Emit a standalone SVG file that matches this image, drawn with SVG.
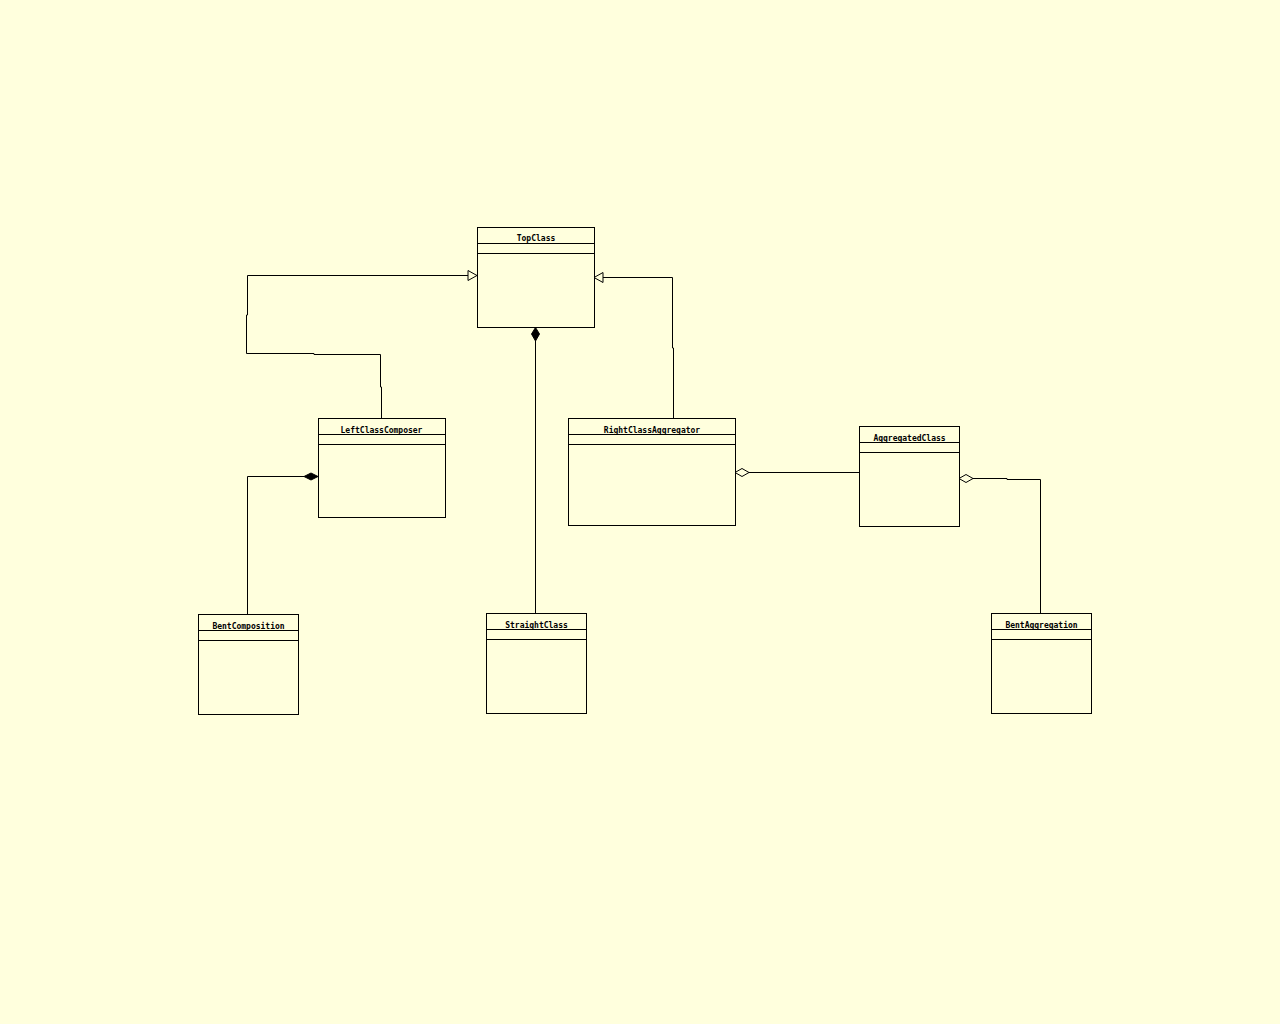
<svg xmlns="http://www.w3.org/2000/svg" width="1280" height="1024" viewBox="0 0 1280 1024">
<style>
.box{fill:none;stroke:#000;stroke-width:1}
.ln{fill:none;stroke:#000;stroke-width:1}
.t{font-family:"DejaVu Sans Mono","Liberation Mono",monospace;font-size:8px;font-weight:bold;fill:#000;text-anchor:middle}
.hol{fill:#FFFFDD;stroke:#000;stroke-width:1}
.fil{fill:#000;stroke:#000;stroke-width:1}
</style>
<rect x="0" y="0" width="1280" height="1024" fill="#FFFFDD"/>
<g id="connectors">
<polyline class="ln" points="381.5,418 381.5,387 380.5,387 380.5,354.5 314,354.5 314,353.5 246.5,353.5 246.5,315 247.5,315 247.5,275.5 468,275.5"/>
<polygon class="hol" points="468,270.5 477,275.5 468,280.5"/>
<polyline class="ln" points="673.5,418 673.5,348 672.5,348 672.5,277.5 603,277.5"/>
<polygon class="hol" points="603,272.5 594,277.5 603,282.5"/>
<line class="ln" x1="535.5" y1="613" x2="535.5" y2="341"/>
<polygon class="fil" points="535.5,327.5 539.5,334 535.5,341 531.5,334"/>
<polyline class="ln" points="247.5,614 247.5,476.5 304,476.5"/>
<polygon class="fil" points="318,476.5 311,480 304,476.5 311,473"/>
<line class="ln" x1="859" y1="472.5" x2="749" y2="472.5"/>
<polygon class="hol" points="735,472.5 742,468.5 749,472.5 742,476.5"/>
<polyline class="ln" points="1040.5,613 1040.5,479.5 1007,479.5 1007,478.5 973,478.5"/>
<polygon class="hol" points="959,478.5 966,474.5 973,478.5 966,482.5"/>
</g>
<g id="TopClass">
<rect class="box" x="477.5" y="227.5" width="117" height="100" fill="#FFFFDD"/>
<line class="ln" x1="477.5" y1="243.5" x2="594.5" y2="243.5"/>
<line class="ln" x1="477.5" y1="253.5" x2="594.5" y2="253.5"/>
<text class="t" x="536" y="241">TopClass</text>
</g>
<g id="LeftClassComposer">
<rect class="box" x="318.5" y="418.5" width="127" height="99"/>
<line class="ln" x1="318.5" y1="434.5" x2="445.5" y2="434.5"/>
<line class="ln" x1="318.5" y1="444.5" x2="445.5" y2="444.5"/>
<text class="t" x="381.5" y="432.5">LeftClassComposer</text>
</g>
<g id="RightClassAggregator">
<rect class="box" x="568.5" y="418.5" width="167" height="107"/>
<line class="ln" x1="568.5" y1="434.5" x2="735.5" y2="434.5"/>
<line class="ln" x1="568.5" y1="444.5" x2="735.5" y2="444.5"/>
<text class="t" x="652" y="432.5">RightClassAggregator</text>
</g>
<g id="AggregatedClass">
<rect class="box" x="859.5" y="426.5" width="100" height="100"/>
<line class="ln" x1="859.5" y1="442.5" x2="959.5" y2="442.5"/>
<line class="ln" x1="859.5" y1="452.5" x2="959.5" y2="452.5"/>
<text class="t" x="909.5" y="440.5">AggregatedClass</text>
</g>
<g id="BentComposition">
<rect class="box" x="198.5" y="614.5" width="100" height="100"/>
<line class="ln" x1="198.5" y1="630.5" x2="298.5" y2="630.5"/>
<line class="ln" x1="198.5" y1="640.5" x2="298.5" y2="640.5"/>
<text class="t" x="248.5" y="628.5">BentComposition</text>
</g>
<g id="StraightClass">
<rect class="box" x="486.5" y="613.5" width="100" height="100"/>
<line class="ln" x1="486.5" y1="629.5" x2="586.5" y2="629.5"/>
<line class="ln" x1="486.5" y1="639.5" x2="586.5" y2="639.5"/>
<text class="t" x="536.5" y="627.5">StraightClass</text>
</g>
<g id="BentAggregation">
<rect class="box" x="991.5" y="613.5" width="100" height="100"/>
<line class="ln" x1="991.5" y1="629.5" x2="1091.5" y2="629.5"/>
<line class="ln" x1="991.5" y1="639.5" x2="1091.5" y2="639.5"/>
<text class="t" x="1041.5" y="627.5">BentAggregation</text>
</g>
</svg>
